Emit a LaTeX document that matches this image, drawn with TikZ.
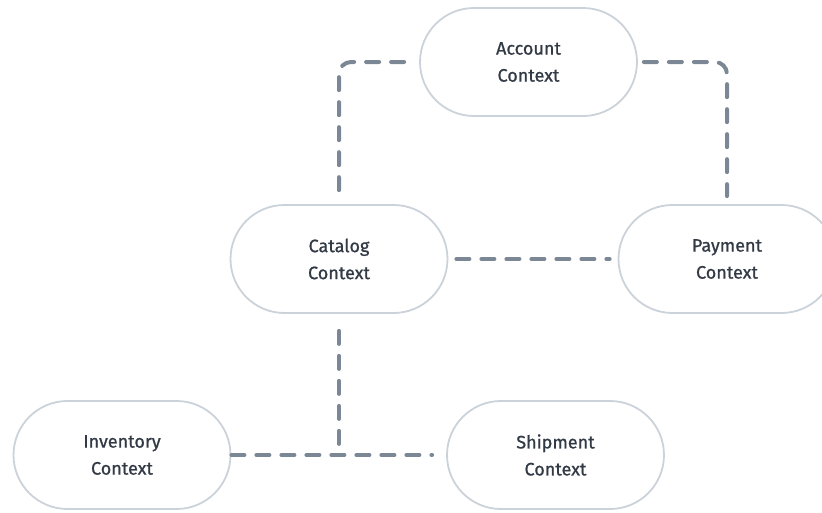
\documentclass[tikz,border=0pt]{standalone}
\usepackage{fontspec}
\setmainfont{Fira Sans}
\newfontfamily\ctxfont{Fira Sans}[FakeBold=0.9]
\definecolor{edgegray}{HTML}{7B8794}
\definecolor{nodegray}{HTML}{CBD2D9}
\definecolor{textgray}{HTML}{323A45}
\begin{document}
\begin{tikzpicture}[x=1pt,y=-1pt,
  ctx/.style={draw=nodegray,line width=1.8pt,rounded corners=54pt,minimum width=217pt,minimum height=108pt,
    align=center,font=\ctxfont\fontsize{18}{27}\selectfont,text=textgray,inner sep=0pt},
  link/.style={draw=edgegray,line width=4pt,line cap=round,dash pattern=on 13pt off 12pt,rounded corners=12pt}]
\useasboundingbox (0,0) rectangle (822,512);
\node[ctx] (account) at (528.5,62) {Account\\Context};
\node[ctx] (catalog) at (339,259) {Catalog\\Context};
\node[ctx] (payment) at (727,259) {Payment\\Context};
\node[ctx] (inventory) at (122,455) {Inventory\\Context};
\node[ctx] (shipment) at (555.5,455) {Shipment\\Context};
\draw[link] ([xshift=-15pt]account.west) -| ([yshift=8pt]catalog.north);
\draw[link] ([xshift=6pt]account.east) -| ([yshift=8pt]payment.north);
\draw[link] ([xshift=8pt]catalog.east) -- ([xshift=-8pt]payment.west);
\draw[link] ([yshift=-17pt]catalog.south) -- (catalog.south |- inventory.east);
\draw[link] (inventory.east) -- ([xshift=-14pt]shipment.west);
\end{tikzpicture}
\end{document}
